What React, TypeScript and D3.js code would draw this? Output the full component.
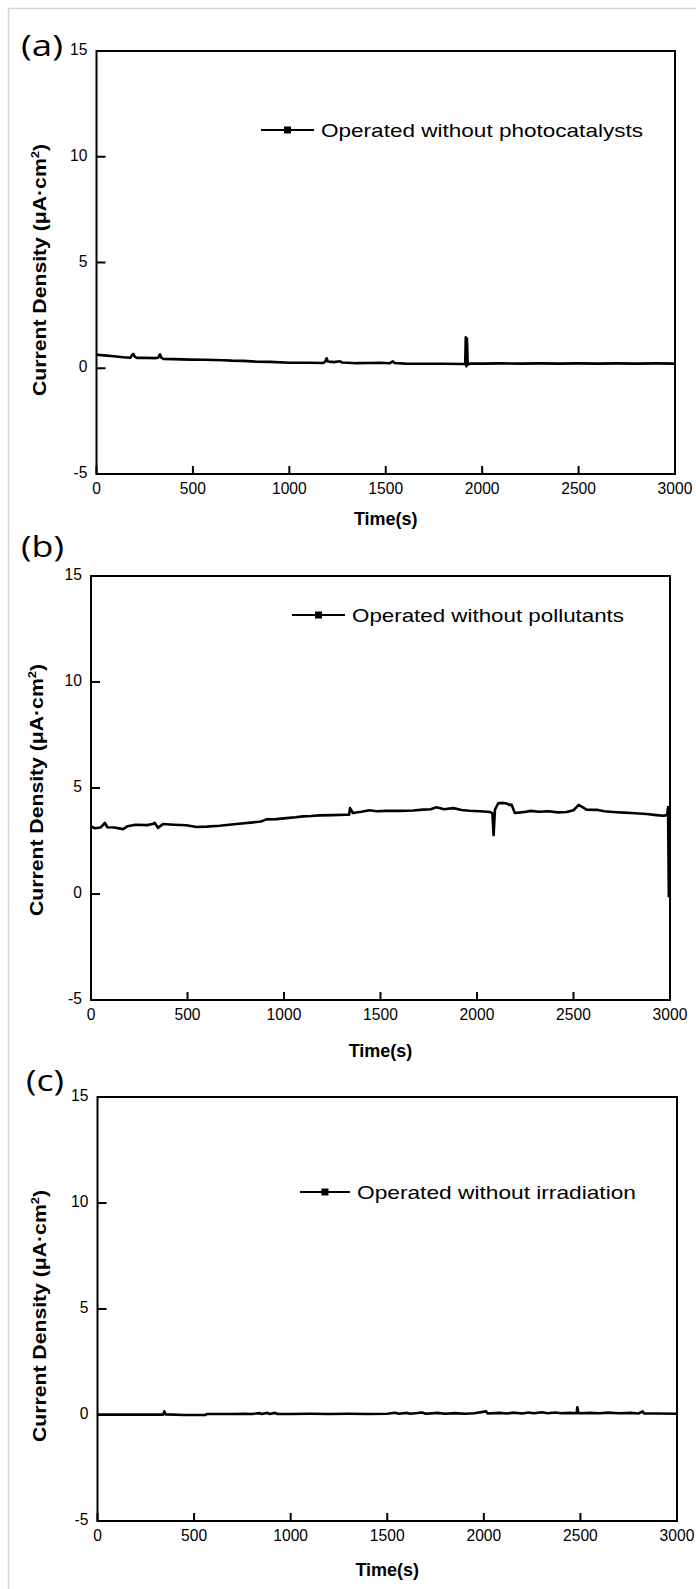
import React from "react";
import * as d3 from "d3";

// ---- data (time in s, current density in µA·cm^-2) ----
const xTicks = [0, 500, 1000, 1500, 2000, 2500, 3000];
const yTicks = [-5, 0, 5, 10, 15];

const seriesPhotocatalysts: [number, number][] = [
  [0, 0.64], [40, 0.61], [90, 0.57], [139, 0.52], [175, 0.5], [185, 0.62], [191, 0.68], [198, 0.55],
  [210, 0.49], [250, 0.5], [300, 0.48], [320, 0.5], [329, 0.66], [336, 0.5], [347, 0.44], [400, 0.43],
  [485, 0.41], [560, 0.4], [658, 0.38], [700, 0.36], [760, 0.35], [830, 0.31], [900, 0.3], [1003, 0.26],
  [1100, 0.26], [1176, 0.25], [1185, 0.3], [1193, 0.47], [1200, 0.32], [1230, 0.29], [1263, 0.33],
  [1275, 0.27], [1349, 0.24], [1400, 0.25], [1470, 0.26], [1522, 0.24], [1537, 0.33], [1545, 0.25],
  [1600, 0.22], [1700, 0.21], [1800, 0.21], [1900, 0.2], [1912, 0.2], [1915, 1.46], [1918, 0.09],
  [1921, 1.4], [1925, 0.18], [1940, 0.22], [2000, 0.22], [2100, 0.23], [2200, 0.22], [2300, 0.23],
  [2400, 0.22], [2500, 0.23], [2600, 0.22], [2700, 0.23], [2800, 0.22], [2900, 0.23], [3000, 0.22],
];

const seriesPollutants: [number, number][] = [
  [0, 3.19], [20, 3.1], [50, 3.14], [72, 3.35], [85, 3.15], [120, 3.14], [166, 3.06], [190, 3.2],
  [230, 3.27], [290, 3.25], [320, 3.3], [330, 3.36], [347, 3.12], [373, 3.3], [430, 3.27], [494, 3.24],
  [546, 3.16], [600, 3.18], [667, 3.22], [753, 3.3], [840, 3.38], [880, 3.42], [909, 3.52], [960, 3.53],
  [1012, 3.58], [1060, 3.62], [1098, 3.66], [1140, 3.68], [1184, 3.71], [1250, 3.72], [1322, 3.74],
  [1338, 3.74], [1342, 4.05], [1357, 3.82], [1400, 3.88], [1443, 3.95], [1480, 3.9], [1529, 3.92],
  [1600, 3.92], [1669, 3.94], [1720, 3.98], [1760, 4.0], [1790, 4.09], [1830, 4.0], [1877, 4.05],
  [1920, 3.96], [1960, 3.93], [2015, 3.9], [2067, 3.87], [2080, 3.8], [2086, 2.78], [2093, 3.98],
  [2110, 4.28], [2130, 4.3], [2153, 4.27], [2170, 4.2], [2179, 4.22], [2196, 3.82], [2239, 3.86],
  [2280, 3.92], [2320, 3.88], [2370, 3.9], [2420, 3.85], [2464, 3.87], [2500, 3.95], [2527, 4.2],
  [2567, 3.98], [2620, 3.97], [2660, 3.9], [2705, 3.87], [2760, 3.84], [2800, 3.82], [2878, 3.77],
  [2930, 3.72], [2964, 3.69], [2985, 3.72], [2990, 4.1], [2994, -0.15],
];

const seriesIrradiation: [number, number][] = [
  [0, 0.02], [100, 0.02], [200, 0.02], [300, 0.02], [340, 0.02], [346, 0.17], [352, 0.03], [450, 0.0],
  [560, 0.0], [565, 0.05], [700, 0.05], [760, 0.06], [800, 0.05], [840, 0.09], [850, 0.05], [880, 0.1],
  [890, 0.05], [920, 0.1], [930, 0.05], [1000, 0.05], [1100, 0.06], [1200, 0.05], [1300, 0.06],
  [1400, 0.05], [1500, 0.06], [1540, 0.11], [1560, 0.06], [1600, 0.1], [1620, 0.06], [1680, 0.12],
  [1700, 0.06], [1760, 0.1], [1800, 0.06], [1850, 0.09], [1900, 0.06], [1950, 0.08], [2012, 0.17],
  [2020, 0.07], [2080, 0.1], [2120, 0.07], [2150, 0.11], [2200, 0.07], [2230, 0.12], [2260, 0.08],
  [2300, 0.13], [2330, 0.08], [2370, 0.12], [2400, 0.08], [2440, 0.1], [2480, 0.08], [2484, 0.36],
  [2490, 0.08], [2550, 0.1], [2600, 0.08], [2640, 0.11], [2700, 0.08], [2760, 0.1], [2800, 0.07],
  [2822, 0.17], [2830, 0.07], [2900, 0.07], [3000, 0.06],
];

const panelLabels = ["(a)", "(b)", "(c)"];
const legendLabels = [
  "Operated without photocatalysts",
  "Operated without pollutants",
  "Operated without irradiation",
];
const xTitle = "Time(s)";

// ---- layout ----
const layouts = [
  { left: 96.5, right: 675, top: 51, bottom: 474, lab: [21, 56, 42], leg: [261, 314, 130, 321, 322], yt: [45.5, 270], xt: 51 },
  { left: 91, right: 670, top: 576, bottom: 1000, lab: [21, 557, 43], leg: [292, 345, 615, 352, 272], yt: [42.5, 790], xt: 57 },
  { left: 97.5, right: 677, top: 1097, bottom: 1521, lab: [26, 1091, 38], leg: [300, 350, 1192, 357, 279], yt: [45.5, 1316], xt: 55 },
];
const seriesList = [seriesPhotocatalysts, seriesPollutants, seriesIrradiation];

const tickFont = "'Liberation Sans', Arial, sans-serif";

function Panel({ i }: { i: number }) {
  const L = layouts[i];
  const x = d3.scaleLinear().domain([0, 3000]).range([L.left, L.right]);
  const y = d3.scaleLinear().domain([-5, 15]).range([L.bottom, L.top]);
  const line = d3
    .line<[number, number]>()
    .x((d) => x(d[0]))
    .y((d) => y(d[1]));
  const [lx1, lx2, ly, tx, tlen] = L.leg;
  return (
    <g>
      <text
        x={L.lab[0]}
        y={L.lab[1]}
        fontFamily="'Open Sans', 'Liberation Sans', sans-serif"
        fontSize={30}
        textLength={L.lab[2]}
        lengthAdjust="spacingAndGlyphs"
      >
        {panelLabels[i]}
      </text>
      <path d={line(seriesList[i]) || ""} fill="none" stroke="#000" strokeWidth={2.6} strokeLinejoin="round" />
      <rect x={L.left} y={L.top} width={L.right - L.left} height={L.bottom - L.top} fill="none" stroke="#000" strokeWidth={2} />
      {xTicks.map((t) => (
        <g key={"x" + t}>
          <line x1={x(t)} x2={x(t)} y1={L.bottom} y2={L.bottom - 8} stroke="#000" strokeWidth={2} />
          <text
            transform={`translate(${x(t)},${L.bottom + 20}) scale(0.92,1)`}
            textAnchor="middle"
            fontFamily={tickFont}
            fontSize={17}
          >
            {t}
          </text>
        </g>
      ))}
      {yTicks.map((t) => (
        <g key={"y" + t}>
          <line x1={L.left} x2={L.left + 9} y1={y(t)} y2={y(t)} stroke="#000" strokeWidth={2} />
          <text
            transform={`translate(${L.left - 9},${y(t) + 4}) scale(0.92,1)`}
            textAnchor="end"
            fontFamily={tickFont}
            fontSize={17}
          >
            {t}
          </text>
        </g>
      ))}
      <text
        x={(L.left + L.right) / 2}
        y={L.bottom + L.xt}
        textAnchor="middle"
        fontFamily={tickFont}
        fontWeight="bold"
        fontSize={18}
      >
        {xTitle}
      </text>
      <text
        transform={`translate(${L.yt[0]},${L.yt[1]}) rotate(-90)`}
        textAnchor="middle"
        fontFamily={tickFont}
        fontWeight="bold"
        fontSize={18}
        textLength={252}
        lengthAdjust="spacingAndGlyphs"
      >
        Current Density (μA·cm
        <tspan dy={-7} fontSize={11}>2</tspan>
        <tspan dy={7}>)</tspan>
      </text>
      <line x1={lx1} x2={lx2} y1={ly} y2={ly} stroke="#000" strokeWidth={2} />
      <rect x={(lx1 + lx2) / 2 - 3.5} y={ly - 3.5} width={7} height={7} fill="#000" />
      <text
        x={tx}
        y={ly + 7}
        fontFamily={tickFont}
        fontSize={19}
        textLength={tlen}
        lengthAdjust="spacingAndGlyphs"
      >
        {legendLabels[i]}
      </text>
    </g>
  );
}

export default function App() {
  return (
    <svg
      width={696}
      height={1589}
      viewBox="0 0 696 1589"
      style={{ position: "absolute", left: 0, top: 0, background: "#fff" }}
    >
      <rect x={0} y={0} width={696} height={1589} fill="#fff" />
      <line x1={8.5} x2={8.5} y1={8} y2={1589} stroke="#d4d4d4" strokeWidth={1.5} />
      <line x1={8} x2={696} y1={8.5} y2={8.5} stroke="#d4d4d4" strokeWidth={1.5} />
      {[0, 1, 2].map((i) => (
        <Panel key={i} i={i} />
      ))}
    </svg>
  );
}
